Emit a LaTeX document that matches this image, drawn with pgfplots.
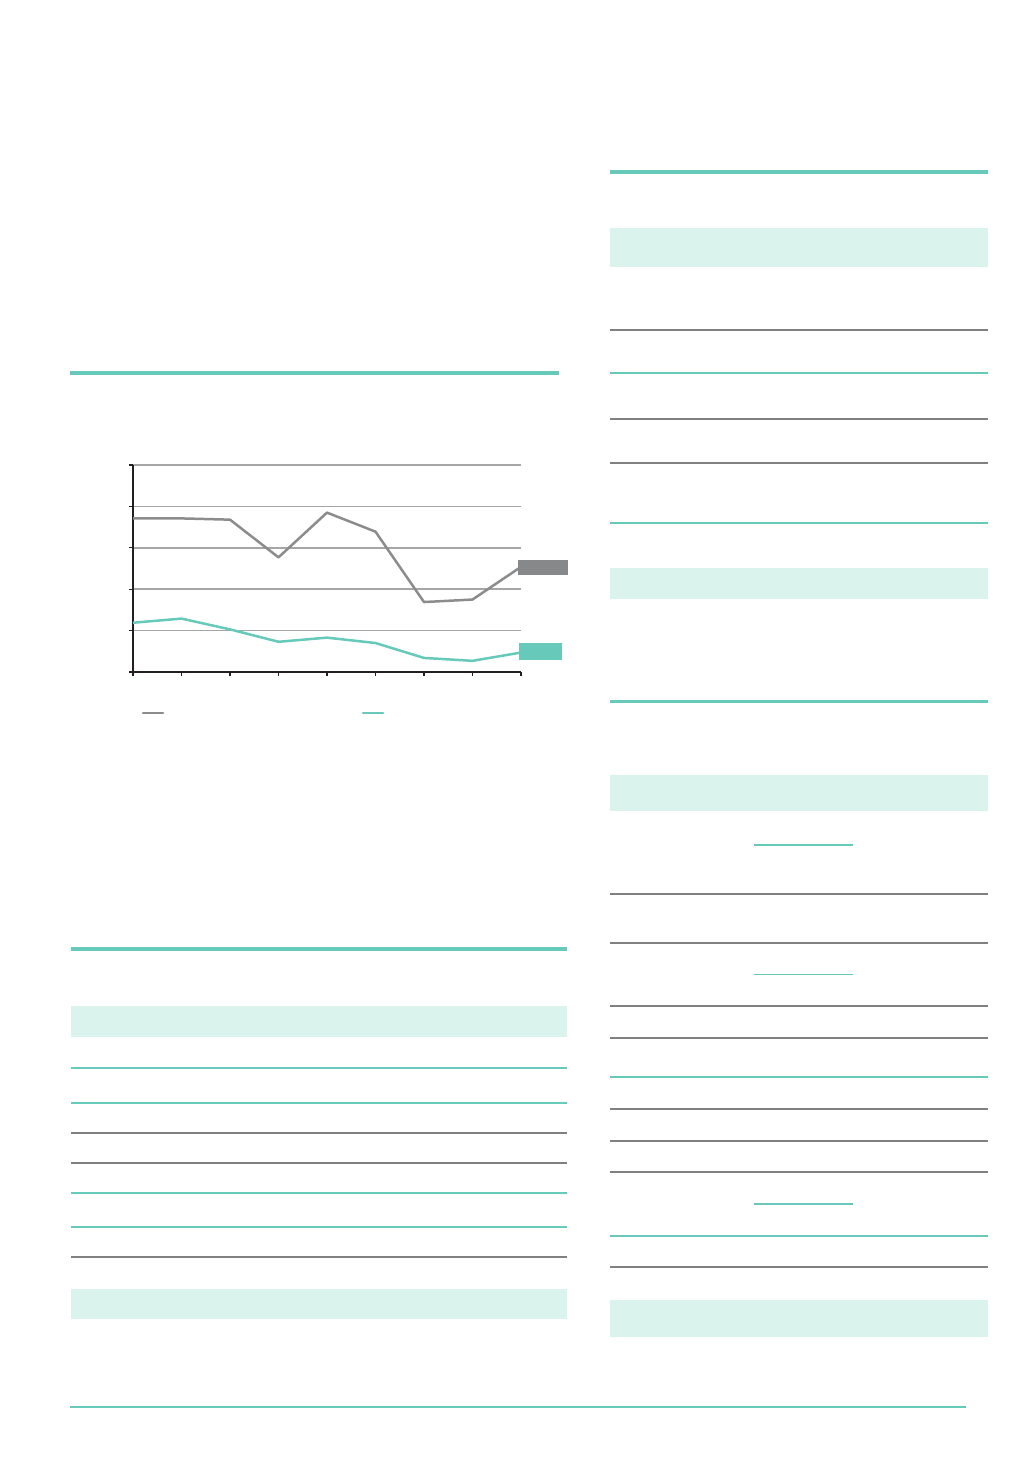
\documentclass[border=0pt]{standalone}
\usepackage{pgfplots}
\pgfplotsset{compat=1.18}

\definecolor{mint}{RGB}{102,201,185}
\definecolor{mintfill}{RGB}{218,243,236}
\definecolor{lineGray}{RGB}{140,140,140}
\definecolor{boxGray}{RGB}{135,136,138}
\definecolor{ruleGray}{RGB}{128,128,128}
\definecolor{gridGray}{RGB}{166,166,166}
\definecolor{axisDark}{RGB}{35,31,32}

\begin{document}
\begin{tikzpicture}
  % page furniture, in pixel units of the reference (y downwards)
  \begin{scope}[x=0.5pt,y=-0.5pt]
    \path[use as bounding box] (0,0) rectangle (1036,1476);
    % chart heading rule and footer rule
    \draw[mint, line width=1.7pt] (70,373) -- (559,373);
    \draw[mint, line width=1.1pt] (70,1407) -- (966,1407);

    % left table
    \draw[mint, line width=1.8pt] (71,949) -- (567,949);
    \fill[mintfill] (71,1006) rectangle (567,1036.5);
    \draw[mint, line width=1pt] (71,1068) -- (567,1068);
    \draw[mint, line width=1pt] (71,1103) -- (567,1103);
    \draw[ruleGray, line width=1pt] (71,1132.5) -- (567,1132.5);
    \draw[ruleGray, line width=1pt] (71,1162.5) -- (567,1162.5);
    \draw[mint, line width=1pt] (71,1192.5) -- (567,1192.5);
    \draw[mint, line width=1pt] (71,1226.5) -- (567,1226.5);
    \draw[ruleGray, line width=1pt] (71,1256.5) -- (567,1256.5);
    \fill[mintfill] (71,1288.5) rectangle (567,1319);

    % right upper table
    \draw[mint, line width=1.8pt] (610,172) -- (988,172);
    \fill[mintfill] (610,228) rectangle (988,267);
    \draw[ruleGray, line width=1pt] (610,330) -- (988,330);
    \draw[mint, line width=1pt] (610,373) -- (988,373);
    \draw[ruleGray, line width=1pt] (610,419) -- (988,419);
    \draw[ruleGray, line width=1pt] (610,462.5) -- (988,462.5);
    \draw[mint, line width=1pt] (610,523) -- (988,523);
    \fill[mintfill] (610,568) rectangle (988,599);

    % right lower table
    \draw[mint, line width=1.8pt] (610,701.5) -- (988,701.5);
    \fill[mintfill] (610,775) rectangle (988,811);
    \draw[mint, line width=0.9pt] (754,845) -- (853,845);
    \draw[ruleGray, line width=1pt] (610,893.5) -- (988,893.5);
    \draw[ruleGray, line width=1pt] (610,943) -- (988,943);
    \draw[mint, line width=0.9pt] (754,974.5) -- (853,974.5);
    \draw[ruleGray, line width=1pt] (610,1006) -- (988,1006);
    \draw[ruleGray, line width=1pt] (610,1038) -- (988,1038);
    \draw[mint, line width=1pt] (610,1077) -- (988,1077);
    \draw[ruleGray, line width=1pt] (610,1109) -- (988,1109);
    \draw[ruleGray, line width=1pt] (610,1140.5) -- (988,1140.5);
    \draw[ruleGray, line width=1pt] (610,1172) -- (988,1172);
    \draw[mint, line width=0.9pt] (754,1204) -- (853,1204);
    \draw[mint, line width=1pt] (610,1235.5) -- (988,1235.5);
    \draw[ruleGray, line width=1pt] (610,1267) -- (988,1267);
    \fill[mintfill] (610,1300) rectangle (988,1337);
  \end{scope}

  \begin{axis}[
      at={(66.5pt,-336pt)}, anchor=south west,
      scale only axis,
      width=194pt, height=103.5pt,
      xmin=0, xmax=8, ymin=0, ymax=5,
      axis lines*=left,
      axis line style={axisDark, line width=0.85pt},
      xtick={0,...,8}, ytick={0,...,5},
      xticklabels={}, yticklabels={},
      tick align=outside,
      major tick length=2pt,
      tick style={axisDark, line width=0.6pt},
      ymajorgrids,
      grid style={gridGray, line width=0.8pt},
      clip=false
    ]
    \addplot[lineGray, line width=1.25pt, line join=round] coordinates {
      (0,3.71) (1,3.71) (2,3.68) (3,2.77) (4,3.85)
      (5,3.39) (6,1.69) (7,1.75) (8,2.54)
    };
    \addplot[mint, line width=1.25pt, line join=round] coordinates {
      (0,1.19) (1,1.29) (2,1.03) (3,0.73) (4,0.83)
      (5,0.70) (6,0.34) (7,0.27) (8,0.47)
    };
  \end{axis}

  % end-of-line value boxes and legend swatches
  \begin{scope}[x=0.5pt,y=-0.5pt]
    \fill[boxGray] (518,560) rectangle (568,575);
    \fill[mint] (518.5,643) rectangle (562,660);
    \draw[lineGray, line width=1.3pt, line cap=round] (143,713) -- (163,713);
    \draw[mint, line width=1.3pt, line cap=round] (363,713) -- (383,713);
  \end{scope}
\end{tikzpicture}
\end{document}
